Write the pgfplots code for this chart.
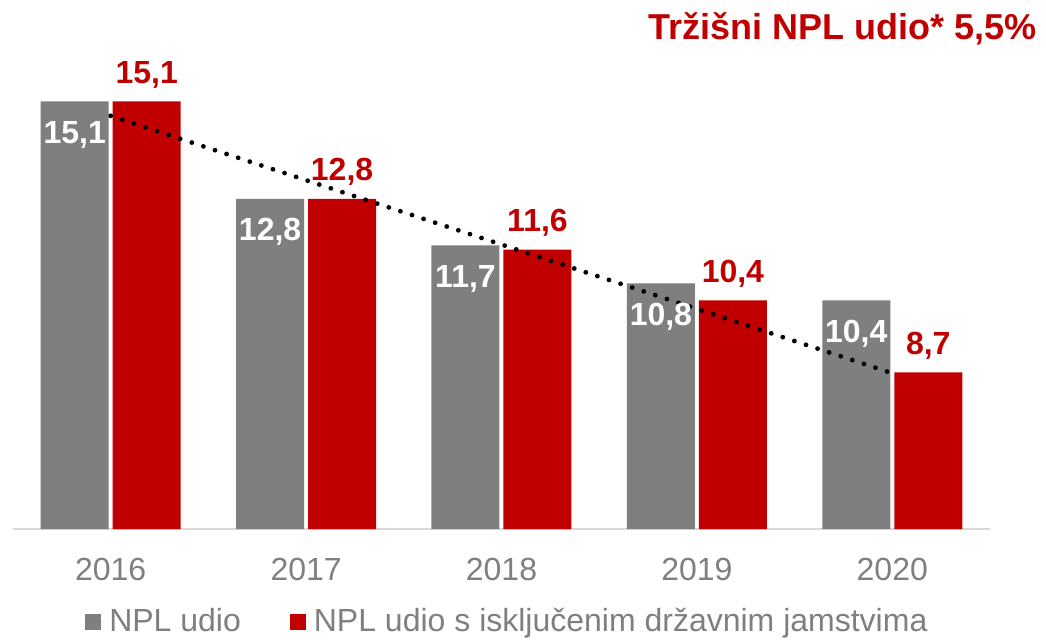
\documentclass[border=0pt]{standalone}
\usepackage{pgfplots}
\pgfplotsset{compat=1.18}
\usepackage{fontspec}
\setmainfont{Liberation Sans}
\definecolor{cgrey}{HTML}{7F7F7F}
\definecolor{cred}{HTML}{C00000}
\definecolor{caxis}{HTML}{D9D9D9}
\definecolor{ctext}{HTML}{7F7F7F}
\begin{document}
\begin{tikzpicture}
\path[use as bounding box] (0,0) rectangle (523pt,319.5pt);
\begin{axis}[
  at={(6.5pt,55pt)}, anchor=south west,
  scale only axis, width=488.5pt, height=254pt,
  xmin=-0.5, xmax=4.5, ymin=5, ymax=17,
  ybar=2pt, bar width=34pt,
  axis x line=bottom, axis y line=none,
  x axis line style={caxis, line width=0.75pt, -},
  xtick={0,1,2,3,4}, xticklabels={2016,2017,2018,2019,2020},
  major tick length=0pt,
  xticklabel style={anchor=base, yshift=-25.5pt, font=\fontsize{16}{19}\selectfont, text=ctext},
  nodes near coords,
  /pgf/number format/.cd, use comma, fixed, fixed zerofill, precision=1, assume math mode=true,
  /pgfplots/.cd,
  legend columns=2,
  legend style={draw=none, fill=none, at={(0.507,-0.225)}, anchor=south,
    font=\fontsize{16}{19}\selectfont, text=ctext,
    /tikz/every even column/.append style={column sep=22.5pt}},
  legend image code/.code={\fill[#1] (0pt,-4pt) rectangle (8pt,4pt); \path (0pt,0pt) -- (10pt,0pt);},
]
\addplot[fill=cgrey, draw=none,
  every node near coord/.append style={anchor=base, yshift=-21pt, text=white, font=\fontsize{16}{19}\selectfont\bfseries}]
  coordinates {(0,15.1) (1,12.8) (2,11.7) (3,10.8) (4,10.4)};
\addlegendentry{NPL udio}
\addplot[fill=cred, draw=none,
  every node near coord/.append style={anchor=base, yshift=9pt, text=cred, font=\fontsize{16}{19}\selectfont\bfseries}]
  coordinates {(0,15.1) (1,12.8) (2,11.6) (3,10.4) (4,8.7)};
\addlegendentry{NPL udio s isključenim državnim jamstvima}
\addplot[sharp plot, black, line width=2.4pt, line cap=round, dash pattern=on 0pt off 6.1pt, nodes near coords={}, forget plot]
  coordinates {(0,14.76) (4,8.68)};
\end{axis}
\node[anchor=base east, text=cred, font=\fontsize{18}{22}\selectfont\bfseries, inner sep=0pt] at (518.5pt,299.5pt) {Tržišni NPL udio* 5,5\%};
\end{tikzpicture}
\end{document}
